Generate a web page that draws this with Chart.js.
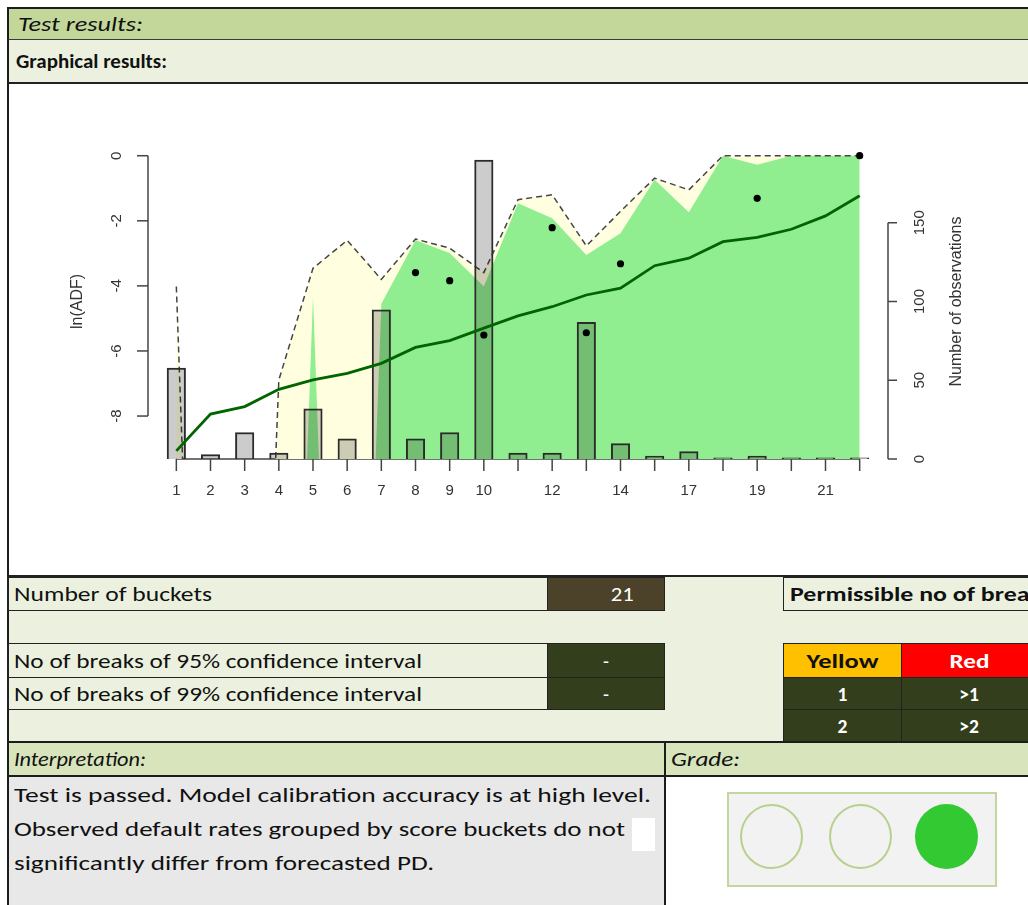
<!DOCTYPE html>
<html>
<head>
<meta charset="utf-8">
<title>Test results</title>
<script src="https://cdn.jsdelivr.net/npm/chart.js@4.4.1/dist/chart.umd.min.js"></script>
<style>
  html, body { margin: 0; padding: 0; width: 1028px; height: 905px; overflow: hidden; background: #fff; }
  .cell { position: absolute; box-sizing: border-box; display: flex; align-items: center; white-space: nowrap;
          font-family: Carlito, "Liberation Sans Narrow", "Liberation Sans", Arial, sans-serif;
          font-size: 19.5px; color: #111; }
  .cell span { display: inline-block; transform-origin: left center; }
  .mid { justify-content: center; }
  .mid span { transform-origin: center center; }
  .it { font-style: italic; }
  .b { font-weight: bold; }
  .w { color: #fff; }
  .box { border: 1px solid #222; }
  .light { background: #ebf1de; }
  .dark { background: #333f1c; }
  .lamp { position: absolute; box-sizing: border-box; width: 63px; height: 65px; border-radius: 50%; }
  #chartBox { position: absolute; left: 9px; top: 84px; width: 1019px; height: 491px; }
  .txt { position: absolute; left: 14px; height: 34px; display: flex; align-items: center; white-space: nowrap;
         font-family: Carlito, "Liberation Sans Narrow", "Liberation Sans", Arial, sans-serif;
         font-size: 20.5px; color: #111; }
  .txt span { display: inline-block; transform-origin: left center; }
</style>
</head>
<body>
<!-- header rows -->
<div class="cell it" style="left:7px;top:7px;width:1040px;height:33px;background:#c4d79b;border-top:2px solid #1c1c1c;border-left:2px solid #1c1c1c;border-bottom:1px solid #3a3a3a;padding-left:9px"><span data-w="125">Test results:</span></div>
<div class="cell b light" style="left:7px;top:40px;width:1040px;height:44px;border-left:2px solid #1c1c1c;border-bottom:2px solid #222;padding-left:7px"><span data-w="151">Graphical results:</span></div>

<!-- chart region -->
<div class="cell" style="left:7px;top:84px;width:1040px;height:493px;border-left:2px solid #1c1c1c;border-bottom:2px solid #222"></div>
<div id="chartBox"><canvas id="chart"></canvas></div>

<!-- summary block -->
<div class="cell light" style="left:7px;top:577px;width:1040px;height:164px;border-left:2px solid #1c1c1c"></div>
<div class="cell box light" style="left:7px;top:577px;width:541px;height:34px;border-left-width:2px;padding-left:5px"><span data-w="198">Number of buckets</span></div>
<div class="cell box w" style="left:547px;top:577px;width:118px;height:34px;background:#4b4229;justify-content:flex-end;padding-right:30px"><span data-w="23" style="transform-origin:right center">21</span></div>
<div class="cell box b light" style="left:783px;top:577px;width:300px;height:34px;padding-left:6px"><span data-w="262">Permissible no of breaks</span></div>

<div class="cell box light" style="left:7px;top:643px;width:541px;height:35px;border-left-width:2px;padding-left:5px"><span data-w="408">No of breaks of 95% confidence interval</span></div>
<div class="cell box light" style="left:7px;top:677px;width:541px;height:33px;border-left-width:2px;padding-left:5px"><span data-w="408">No of breaks of 99% confidence interval</span></div>
<div class="cell box dark w mid" style="left:547px;top:643px;width:118px;height:35px">-</div>
<div class="cell box dark w mid" style="left:547px;top:677px;width:118px;height:33px">-</div>

<div class="cell box b mid" style="left:783px;top:643px;width:119px;height:35px;background:#ffc000"><span data-w="72">Yellow</span></div>
<div class="cell box b w mid" style="left:901px;top:643px;width:136px;height:35px;background:#ff0000"><span data-w="40">Red</span></div>
<div class="cell box b w mid dark" style="left:783px;top:677px;width:119px;height:33px">1</div>
<div class="cell box b w mid dark" style="left:901px;top:677px;width:136px;height:33px">&gt;1</div>
<div class="cell box b w mid dark" style="left:783px;top:709px;width:119px;height:33px">2</div>
<div class="cell box b w mid dark" style="left:901px;top:709px;width:136px;height:33px">&gt;2</div>

<!-- interpretation / grade -->
<div class="cell it" style="left:7px;top:741px;width:658px;height:36px;background:#d8e4bc;border:2px solid #1c1c1c;border-right-width:1px;padding-left:5px"><span data-w="132">Interpretation:</span></div>
<div class="cell it" style="left:664px;top:741px;width:380px;height:36px;background:#d8e4bc;border-top:2px solid #1c1c1c;border-bottom:2px solid #1c1c1c;border-left:2px solid #1c1c1c;padding-left:5px"><span data-w="69">Grade:</span></div>
<div class="cell" style="left:7px;top:777px;width:659px;height:140px;background:#e8e8e8;border-left:2px solid #1c1c1c;border-right:2px solid #1c1c1c"></div>
<div class="txt" style="top:778px"><span data-w="637">Test is passed. Model calibration accuracy is at high level.</span></div>
<div class="txt" style="top:812px"><span data-w="611">Observed default rates grouped by score buckets do not</span></div>
<div class="txt" style="top:846px"><span data-w="420">significantly differ from forecasted PD.</span></div>
<div class="cell" style="left:632px;top:818px;width:23px;height:33px;background:#fff"></div>

<div class="cell" style="left:727px;top:792px;width:270px;height:95px;background:#f2f2f2;border:2px solid #c4d79b"></div>
<div class="lamp" style="left:740px;top:804px;border:2.5px solid #b8d08e"></div>
<div class="lamp" style="left:829px;top:804px;border:2.5px solid #b8d08e"></div>
<div class="lamp" style="left:915px;top:804px;background:#33c933"></div>

<script>
// buckets as labelled on the x axis (bucket 16 is absent)
const BUCKETS = ['1', '2', '3', '4', '5', '6', '7', '8', '9', '10', '11', '12', '13', '14', '15', '17', '18', '19', '20', '21', '22'];
// number of observations per bucket (right axis, bars)
const OBSERVATIONS = [58, 3, 17, 4, 32, 13, 95, 13, 17, 190, 4, 4, 87, 10, 2, 5, 1, 2, 1, 1, 1];
// ln of forecasted PD (green line)
const FORECAST_LN_PD = [-9.07, -7.94, -7.71, -7.18, -6.89, -6.69, -6.38, -5.89, -5.68, -5.30, -4.92, -4.64, -4.28, -4.07, -3.38, -3.15, -2.64, -2.51, -2.26, -1.85, -1.23];
// ln of observed default frequency (points; null = no defaults)
const OBSERVED_LN_ADF = [null, null, null, null, null, null, null, -3.59, -3.84, -5.51, null, -2.21, -5.44, -3.32, null, null, null, -1.31, null, null, 0];
// upper bounds of the confidence intervals (null = ln(0))
const UPPER_95_LN = [null, null, null, null, -4.33, null, -4.55, -2.60, -2.99, -4.02, -1.46, -1.92, -3.05, -2.38, -0.74, -1.74, 0, -0.28, 0, 0, 0];
const UPPER_99_LN = [-4.02, null, null, -6.89, -3.46, -2.60, -3.80, -2.56, -2.84, -3.59, -1.35, -1.20, -2.77, -1.71, -0.69, -1.05, 0, 0, 0, 0, 0];
const LN_TICKS = [-8, -6, -4, -2, 0];
const OBS_TICKS = [0, 50, 100, 150];
// ln(0) is drawn far below the axis, the way R clips -Inf
const LN_ZERO = -33;

// stretch spreadsheet texts to the widths of the original cells
function fitTexts() {
  document.querySelectorAll('[data-w]').forEach(el => {
    const w = el.getBoundingClientRect().width;
    if (w > 0) el.style.transform = 'scaleX(' + (el.dataset.w / w) + ')';
  });
}

const toPoints = (vals, zero) => vals.map((v, i) => ({ x: i + 1, y: v === null ? zero : v }));

function vText(ctx, s, x, y) {
  ctx.save();
  ctx.translate(x, y);
  ctx.rotate(-Math.PI / 2);
  ctx.fillText(s, 0, 0);
  ctx.restore();
}

function seg(ctx, x1, y1, x2, y2) {
  ctx.beginPath();
  ctx.moveTo(x1, y1);
  ctx.lineTo(x2, y2);
  ctx.stroke();
}

// R-like axes: lines only over the tick range, rotated y labels
const rAxes = {
  id: 'rAxes',
  beforeDatasetsDraw(chart) {
    const { ctx, scales: { x, yObs } } = chart;
    ctx.save();
    ctx.strokeStyle = '#444';
    ctx.lineWidth = 1.5;
    seg(ctx, x.getPixelForValue(1), yObs.getPixelForValue(0), x.getPixelForValue(BUCKETS.length), yObs.getPixelForValue(0));
    ctx.restore();
  },
  afterDraw(chart) {
    const { ctx, chartArea: a, scales: { x, yLn, yObs } } = chart;
    ctx.save();
    ctx.strokeStyle = '#444';
    ctx.lineWidth = 1.5;
    ctx.fillStyle = '#333';
    ctx.font = '15px "Liberation Sans", Arial, sans-serif';
    ctx.textAlign = 'center';
    ctx.textBaseline = 'middle';

    BUCKETS.forEach((lab, i) => {
      const px = x.getPixelForValue(i + 1);
      seg(ctx, px, a.bottom, px, a.bottom + 12);
      if (i < 10 || i % 2 === 1) ctx.fillText(lab, px, a.bottom + 32);
    });

    const lx = a.left - 1;
    seg(ctx, lx, yLn.getPixelForValue(LN_TICKS[0]), lx, yLn.getPixelForValue(LN_TICKS[LN_TICKS.length - 1]));
    LN_TICKS.forEach(t => {
      const py = yLn.getPixelForValue(t);
      seg(ctx, lx, py, lx - 11, py);
      vText(ctx, String(t), lx - 31, py);
    });

    const rx = a.right + 1;
    seg(ctx, rx, yObs.getPixelForValue(OBS_TICKS[0]), rx, yObs.getPixelForValue(OBS_TICKS[OBS_TICKS.length - 1]));
    OBS_TICKS.forEach(t => {
      const py = yObs.getPixelForValue(t);
      seg(ctx, rx, py, rx + 9, py);
      vText(ctx, String(t), rx + 32, py);
    });

    ctx.font = '16px "Liberation Sans", Arial, sans-serif';
    const my = (a.top + a.bottom) / 2;
    vText(ctx, 'ln(ADF)', a.left - 71, my);
    vText(ctx, 'Number of observations', a.right + 70, my);
    ctx.restore();
  }
};

new Chart(document.getElementById('chart'), {
  type: 'line',
  data: {
    datasets: [
      {
        label: '99% upper bound area',
        data: toPoints(UPPER_99_LN, LN_ZERO),
        yAxisID: 'yLn',
        fill: 'start',
        backgroundColor: '#ffffe0',
        borderColor: 'transparent',
        borderWidth: 0,
        pointRadius: 0,
        tension: 0,
        order: 10
      },
      {
        label: '95% upper bound area',
        data: toPoints(UPPER_95_LN, LN_ZERO),
        yAxisID: 'yLn',
        fill: 'start',
        backgroundColor: '#90ee90',
        borderColor: 'transparent',
        borderWidth: 0,
        pointRadius: 0,
        tension: 0,
        order: 9
      },
      {
        label: '99% upper bound',
        data: toPoints(UPPER_99_LN, LN_ZERO),
        yAxisID: 'yLn',
        fill: false,
        borderColor: '#444',
        borderWidth: 1.5,
        borderDash: [6, 4],
        pointRadius: 0,
        tension: 0,
        order: 8
      },
      {
        type: 'bar',
        label: 'Number of observations',
        data: OBSERVATIONS.map((v, i) => ({ x: i + 1, y: v })),
        yAxisID: 'yObs',
        backgroundColor: 'rgba(0,0,0,0.2)',
        borderColor: '#2b2b2b',
        borderWidth: 2,
        barPercentage: 0.56,
        categoryPercentage: 1,
        order: 7
      },
      {
        label: 'ln(PD)',
        data: toPoints(FORECAST_LN_PD, LN_ZERO),
        yAxisID: 'yLn',
        fill: false,
        borderColor: '#006400',
        borderWidth: 2.8,
        pointRadius: 0,
        tension: 0,
        order: 6
      },
      {
        label: 'ln(ADF)',
        data: OBSERVED_LN_ADF.map((v, i) => ({ x: i + 1, y: v })),
        yAxisID: 'yLn',
        showLine: false,
        pointRadius: 3.6,
        pointBackgroundColor: '#000',
        pointBorderWidth: 0,
        order: 5
      }
    ]
  },
  options: {
    responsive: true,
    maintainAspectRatio: false,
    animation: false,
    events: [],
    layout: { padding: { left: 140, right: 141, top: 60, bottom: 116 } },
    scales: {
      x: {
        type: 'linear',
        display: false,
        offset: false,
        min: 0.2,
        max: 21.8,
        afterBuildTicks: (scale) => { scale.ticks = BUCKETS.map((b, i) => ({ value: i + 1 })); }
      },
      yLn: { type: 'linear', position: 'left', display: false, min: -9.32, max: 0.36 },
      yObs: { type: 'linear', position: 'right', display: false, min: 0, max: 200 }
    },
    plugins: {
      legend: { display: false },
      tooltip: { enabled: false }
    }
  },
  plugins: [rAxes]
});

document.fonts.ready.then(fitTexts);
</script>
</body>
</html>
